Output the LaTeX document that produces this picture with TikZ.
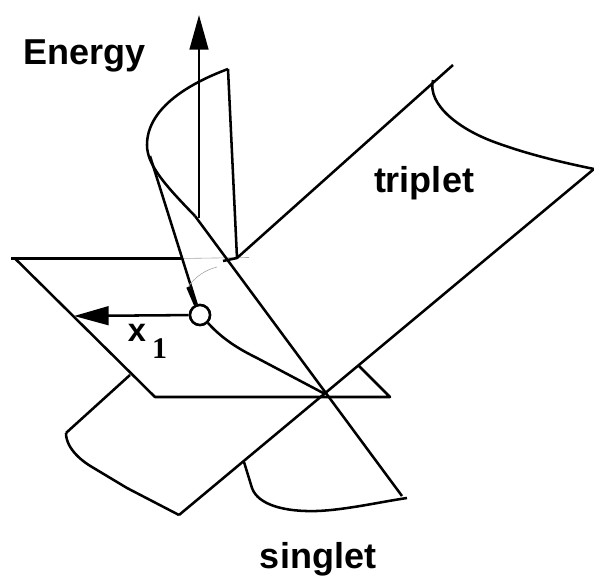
\documentclass[tikz,border=0pt]{standalone}
\usepackage{fontspec}
\setmainfont{Liberation Sans}
\newfontfamily\serifbold{Liberation Serif}
\usetikzlibrary{arrows.meta}

\begin{document}
\begin{tikzpicture}[x=0.75pt,y=-0.75pt]
\tikzset{
  edge/.style={line width=1.9pt,line join=round},
  axis/.style={line width=1.9pt,-{Triangle[length=26pt,width=14pt]}},
  faint/.style={line width=0.45pt,black!35},
  pointnode/.style={circle,draw,fill=white,line width=1.9pt,minimum size=15pt,inner sep=0pt},
  label/.style={font=\fontsize{27}{30}\bfseries,inner sep=0pt,anchor=base}
}
\useasboundingbox (0,0) rectangle (594,581);
% plane
\coordinate (p_a) at (11,258.5);
\coordinate (p_b) at (15,258.5);
\coordinate (p_c) at (155,397);
\coordinate (p_d) at (390,397);
\coordinate (p_e) at (359,366);
\coordinate (p_f) at (181,258.5);
\coordinate (p_g) at (249,257.5);
\coordinate (p_h) at (130,375);
% cusps
\coordinate (c_top) at (228,69);
\coordinate (c_bend) at (195,216);
\coordinate (c_foot) at (237,258);
\coordinate (c_fold) at (150,156);
\coordinate (c_thick) at (188,287);
\coordinate (c_far) at (402,496);
\coordinate (c_x) at (325,394);
% triplet
\coordinate (t_a) at (453,65);
\coordinate (t_b) at (433,80);
\coordinate (t_c) at (594,169);
% singlet
\coordinate (s_a) at (179,515);
\coordinate (s_b) at (66,433);
\coordinate (s_c) at (244,462);
\coordinate (s_d) at (407,498);
% axes
\coordinate (e_base) at (199,218);
\coordinate (e_tip) at (199,15);
\coordinate (x_tip) at (74,316);
\node[pointnode] (n_pt) at (200,315) {};

\draw[edge] (p_a) -- (p_f);
\draw[faint] (p_f) -- (p_g);
\draw[edge] (p_b) -- (p_c) -- (p_d) -- (p_e);
\draw[edge] (c_top) -- (c_foot) -- (t_a);
\draw[edge] (c_foot) -- (223,261);
\draw[edge] (t_c) -- (s_a);
\draw[edge] (c_bend) -- (c_far);
\draw[edge] (p_h) -- (s_b);
\draw[edge] (c_top) .. controls (185,85) and (147,110) .. (147,145) .. controls (147,165) and (165,185) .. (c_bend);
\draw[edge] (t_b) .. controls (427,105) and (460,130) .. (497,143) .. controls (530,155) and (565,163) .. (t_c);
\draw[edge] (s_b) .. controls (66,450) and (85,463) .. (92,467) -- (127,488) -- (s_a);
\draw[edge] (s_c) -- (252,488) .. controls (258,505) and (285,512) .. (317,511) .. controls (345,510) and (380,502) .. (s_d);
\draw[edge] (n_pt.-45) .. controls (225,342) and (245,352) .. (257,358) -- (c_x);
\draw[edge] (c_fold) -- (n_pt);
\draw[edge,line width=2.7pt] (c_thick) -- (n_pt);
\draw[faint] (c_thick) .. controls (195,277) and (205,270) .. (217,267);
\draw[axis] (e_base) -- (e_tip);
\draw[axis] (n_pt) -- (x_tip);
\node[pointnode] at (n_pt) {};

\node[label] (n_energy) at (84.5,65) {Energy};
\node[label] (n_triplet) at (424,193) {triplet};
\node[label] (n_singlet) at (318,569) {singlet};
\node[label,font=\fontsize{24.5}{27}\bfseries] (n_x) at (137,342) {x};
\node[label,font=\fontsize{22.5}{25}\serifbold\bfseries] (n_sub) at (159.5,359) {1};
\end{tikzpicture}
\end{document}
